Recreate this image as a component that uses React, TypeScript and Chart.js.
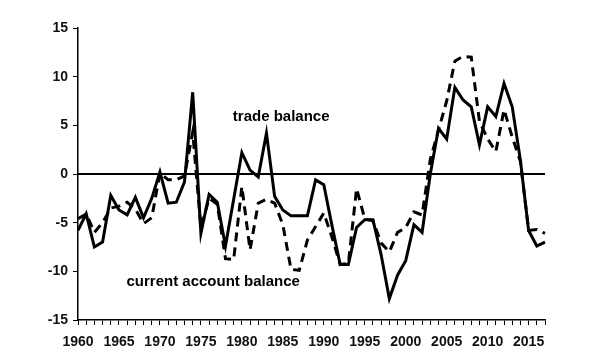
import React, { useEffect, useRef } from "react";
import { Chart, registerables } from "chart.js";

Chart.register(...registerables);

const years: string[] = Array.from({ length: 58 }, (_, i) => String(1960 + i));

const tradeBalance: number[] = [
  -5.8, -4.1, -7.5, -7.0, -2.2, -3.7, -4.2, -2.4, -4.5, -2.5,
  0.2, -3.0, -2.9, -0.8, 8.4, -6.1, -2.1, -2.9, -7.4, -2.6,
  2.2, 0.4, -0.3, 4.2, -2.3, -3.7, -4.3, -4.3, -4.3, -0.6,
  -1.1, -5.3, -9.3, -9.3, -5.5, -4.7, -4.7, -8.3, -12.8, -10.4,
  -8.9, -5.2, -6.0, 0.0, 4.7, 3.6, 8.9, 7.6, 6.9, 3.0,
  6.9, 5.9, 9.3, 6.9, 1.4, -5.8, -7.4, -7.0,
];

const currentAccount: number[] = [
  -4.6, -4.1, -6.0, -5.0, -3.5, -3.3, -2.9, -3.6, -5.1, -4.5,
  0.1, -0.6, -0.6, -0.2, 4.3, -5.5, -2.5, -3.1, -8.7, -8.8,
  -1.3, -7.8, -3.0, -2.6, -3.0, -5.2, -9.8, -9.9, -6.8, -5.4,
  -4.0, -6.5, -9.3, -9.2, -1.5, -4.6, -4.8, -7.1, -8.0, -6.0,
  -5.5, -3.9, -4.2, 1.5, 4.5, 7.5, 11.6, 12.1, 12.0, 5.4,
  3.6, 2.3, 6.6, 3.8, 1.3, -5.8, -5.7, -6.1,
];

const yTicks: number[] = [-15, -10, -5, 0, 5, 10, 15];

const annotations = [
  { text: "trade balance", year: 1984.8, value: 5.9 },
  { text: "current account balance", year: 1976.5, value: -11.1 },
];

const FONT = "'Liberation Sans', Arial, sans-serif";

const overlayPlugin = {
  id: "overlay",
  beforeDatasetsDraw(chart: any) {
    const { ctx, chartArea, scales } = chart;
    const y0 = scales.y.getPixelForValue(0);
    ctx.save();
    ctx.strokeStyle = "#000";
    ctx.lineWidth = 2;
    ctx.beginPath();
    ctx.moveTo(chartArea.left, y0);
    ctx.lineTo(chartArea.right, y0);
    ctx.stroke();
    ctx.restore();
  },
  afterDatasetsDraw(chart: any) {
    const { ctx, scales } = chart;
    const x = scales.x;
    const first = Number(years[0]);
    ctx.save();
    ctx.fillStyle = "#000";
    ctx.font = `bold 15px ${FONT}`;
    ctx.textAlign = "center";
    ctx.textBaseline = "middle";
    for (const a of annotations) {
      const i = a.year - first;
      const i0 = Math.floor(i);
      const px =
        x.getPixelForValue(i0) +
        (x.getPixelForValue(i0 + 1) - x.getPixelForValue(i0)) * (i - i0);
      const py = scales.y.getPixelForValue(a.value);
      ctx.fillText(a.text, px, py);
    }
    ctx.restore();
  },
};

export default function App() {
  const ref = useRef<HTMLCanvasElement | null>(null);
  useEffect(() => {
    if (!ref.current) return;
    const chart = new Chart(ref.current, {
      type: "line",
      data: {
        labels: years,
        datasets: [
          {
            label: "trade balance",
            data: tradeBalance,
            borderColor: "#000",
            borderWidth: 3,
            pointRadius: 0,
            tension: 0,
            fill: false,
          },
          {
            label: "current account balance",
            data: currentAccount,
            borderColor: "#000",
            borderWidth: 3,
            borderDash: [9, 6],
            pointRadius: 0,
            tension: 0,
            fill: false,
          },
        ],
      },
      options: {
        animation: false,
        responsive: false,
        maintainAspectRatio: false,
        layout: { padding: { left: 0, right: 55, top: 28, bottom: 0 } },
        plugins: { legend: { display: false }, tooltip: { enabled: false } },
        scales: {
          x: {
            type: "category",
            offset: false,
            grid: {
              display: true,
              drawOnChartArea: false,
              drawTicks: true,
              tickLength: 5,
              color: "#000",
              lineWidth: 1,
            },
            border: { display: true, color: "#000", width: 1.5 },
            ticks: {
              autoSkip: false,
              maxRotation: 0,
              minRotation: 0,
              color: "#111",
              font: { family: FONT, size: 14, weight: "bold" },
              padding: 9,
              callback: (_v: any, i: number) =>
                Number(years[i]) % 5 === 0 ? years[i] : "",
            },
            afterFit: (s: any) => {
              s.height = 40;
            },
          },
          y: {
            type: "linear",
            min: yTicks[0],
            max: yTicks[yTicks.length - 1],
            afterBuildTicks: (s: any) => {
              s.ticks = yTicks.map((v) => ({ value: v }));
            },
            grid: {
              display: true,
              drawOnChartArea: false,
              drawTicks: true,
              tickLength: 5,
              color: "#000",
            },
            border: { display: true, color: "#000", width: 1.5 },
            ticks: {
              color: "#111",
              font: { family: FONT, size: 14, weight: "bold" },
              padding: 5,
            },
            afterFit: (s: any) => {
              s.width = 78;
            },
          },
        },
      },
      plugins: [overlayPlugin],
    });
    return () => chart.destroy();
  }, []);
  return (
    <div style={{ position: "fixed", left: 0, top: 0, width: 600, height: 360, background: "#fff" }}>
      <canvas ref={ref} width={600} height={360} />
    </div>
  );
}
